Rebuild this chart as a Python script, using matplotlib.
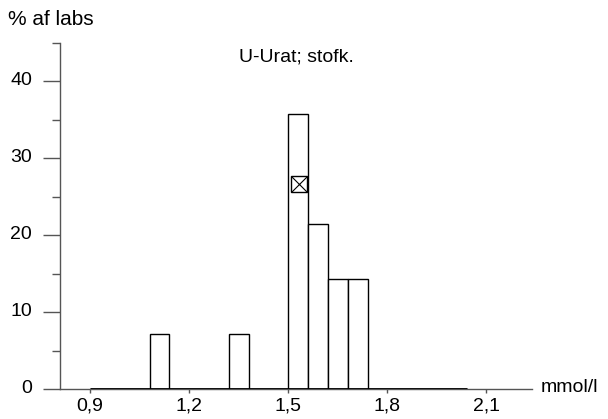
import matplotlib
matplotlib.use("Agg")
import matplotlib.pyplot as plt
from matplotlib.ticker import FixedLocator, MultipleLocator
from matplotlib.transforms import ScaledTranslation

plt.rcParams['font.family'] = ['Liberation Sans', 'DejaVu Sans']

# bins of 0.06 mmol/l (left edges) and % of labs
bin_left = [0.90, 0.96, 1.02, 1.08, 1.14, 1.20, 1.26, 1.32, 1.38, 1.44,
            1.50, 1.56, 1.62, 1.68, 1.74, 1.80, 1.86, 1.92, 1.98]
pct = [0, 0, 0, 7.14, 0, 0, 0, 7.14, 0, 0,
       35.71, 21.43, 14.29, 14.29, 0, 0, 0, 0, 0]
bin_width = 0.06
target_x = 1.533
target_y = 26.7
xticks = [0.9, 1.2, 1.5, 1.8, 2.1]
xticklabels = ["0,9", "1,2", "1,5", "1,8", "2,1"]
yticks = [0, 10, 20, 30, 40]

fs = 14

fig = plt.figure(figsize=(6.08, 4.19), dpi=100)
ax = fig.add_axes([60 / 608, 30 / 419, 472 / 608, 346 / 419])

ax.bar(bin_left, pct, width=bin_width, align='edge', facecolor='white',
       edgecolor='black', linewidth=1.0, zorder=2)
ax.plot([bin_left[0], bin_left[-1] + bin_width], [0, 0], color='black',
        linewidth=2, zorder=3, solid_capstyle='butt')

ax.plot(target_x, target_y, marker='s', markersize=12, markerfacecolor='none',
        markeredgecolor='black', markeredgewidth=1, zorder=4)
ax.plot(target_x, target_y, marker='x', markersize=11, color='black',
        markeredgewidth=0.8, zorder=4)

ax.set_xlim(0.809, 2.238)
ax.set_ylim(0, 45)

for side in ['top', 'right']:
    ax.spines[side].set_visible(False)
for side in ['left', 'bottom']:
    ax.spines[side].set_color('#555555')
    ax.spines[side].set_linewidth(1)

ax.xaxis.set_major_locator(FixedLocator(xticks))
ax.set_xticklabels(xticklabels)
ax.yaxis.set_major_locator(FixedLocator(yticks))
ax.yaxis.set_minor_locator(MultipleLocator(5))
ax.tick_params(axis='x', which='major', length=3, width=1, color='#555555',
               labelsize=fs, pad=3)
ax.tick_params(axis='y', which='major', length=12, width=1, color='#555555',
               labelsize=fs, pad=8)
ax.tick_params(axis='y', which='minor', length=6, width=1, color='#555555')

shift_up = ScaledTranslation(0, 3 / 100, fig.dpi_scale_trans)
for lab in ax.get_yticklabels():
    lab.set_transform(lab.get_transform() + shift_up)

fig.text(8 / 608, 1 - 25 / 419, "% af labs", fontsize=15, va='baseline', ha='left')
fig.text(296 / 608, 1 - 62 / 419, "U-Urat; stofk.", fontsize=fs, va='baseline', ha='center')
fig.text(541 / 608, 1 - 392 / 419, "mmol/l", fontsize=fs, va='baseline', ha='left')

fig.savefig("out.png", dpi=100)
